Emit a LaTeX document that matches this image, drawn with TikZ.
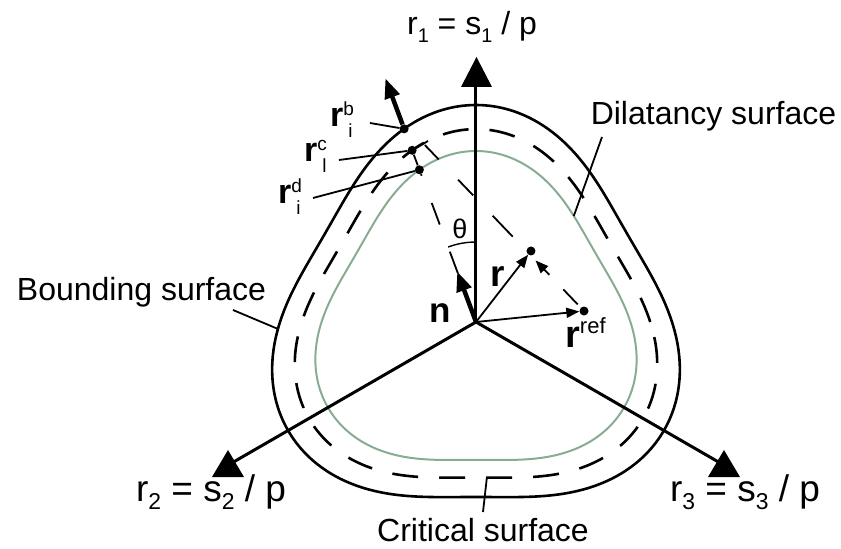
\documentclass[tikz,border=0pt]{standalone}
\usepackage{fontspec}
\setmainfont{Liberation Sans}
\usetikzlibrary{arrows.meta,calc}
\definecolor{dilgreen}{RGB}{135,172,145}
\newcommand{\axlab}[2]{r\raisebox{-0.22em}{\fontsize{0.62em}{0.62em}\selectfont #1} = s\raisebox{-0.22em}{\fontsize{0.62em}{0.62em}\selectfont #2} / p}
\newcommand{\imglab}[2]{{\fontsize{34}{34}\selectfont\bfseries r}\makebox[0pt][l]{\raisebox{11pt}{\fontsize{19}{19}\selectfont #1}}\hspace{5pt}\raisebox{-11pt}{\fontsize{19}{19}\selectfont #2}}
\begin{document}
\begin{tikzpicture}[x=1pt,y=1pt,
  surf/.style={line width=2.6pt},
  crit/.style={line width=2.6pt, dash pattern=on 26pt off 21pt},
  dil/.style={line width=2pt, draw=dilgreen},
  axis/.style={line width=3pt},
  tri/.style={fill=black},
  lead/.style={line width=1.8pt},
  vec/.style={line width=1.8pt, -{Triangle[length=13pt,width=10pt]}},
  bvec/.style={line width=4.5pt, -{Triangle[length=20pt,width=15pt]}},
  dot/.style={circle, fill, inner sep=0pt, minimum size=9pt},
  bigtxt/.style={font=\fontsize{32}{36}\selectfont, inner sep=0pt},
  axtxt/.style={font=\fontsize{37}{40}\selectfont, inner sep=0pt},
  lab/.style={inner sep=0pt, anchor=base west}]
\useasboundingbox (-476,-227) rectangle (365,322);
% surfaces
\draw[surf] plot[domain=0:360, samples=181, smooth] (\x:{196+21*cos(3*(\x-90))}) -- cycle;
\draw[crit] plot[domain=0:360, samples=181, smooth] (\x:{0.889*(196+21*cos(3*(\x-90)))}) -- cycle;
\draw[dil] plot[domain=0:360, samples=181, smooth] (\x:{0.788*(196+21*cos(3*(\x-90)))}) -- cycle;
% axes
\coordinate (O) at (0,0);
\coordinate (a1) at (0,240);
\coordinate (a2) at (210:280);
\coordinate (a3) at (330:280);
\draw[axis] (O) -- (a1);
\draw[axis] (O) -- (a2);
\draw[axis] (O) -- (a3);
\fill[tri] (0.5,265) -- ++(-15.5,-30) -- ++(31,0) -- cycle;
\fill[tri] (-248,-128) -- ++(-16,-27) -- ++(32,0) -- cycle;
\fill[tri] (248,-128) -- ++(-16,-27) -- ++(32,0) -- cycle;
\node[bigtxt, anchor=base] (l1) at (-4,287) {\axlab{1}{1}};
\node[axtxt, anchor=base] (l2) at (-265,-179) {\axlab{2}{2}};
\node[axtxt, anchor=base] (l3) at (269,-179) {\axlab{3}{3}};
% surface labels
\node[bigtxt, anchor=base] (bs) at (-334.5,22) {Bounding surface};
\node[bigtxt, anchor=base] (ds) at (237.5,197) {Dilatancy surface};
\node[bigtxt, anchor=base] (cs) at (7,-219) {Critical surface};
\coordinate (bsl) at (-243,12);
\coordinate (bse) at (182:198.2);
\draw[lead] (bsl) -- (bse);
\coordinate (dsl) at (126,185);
\coordinate (dse) at (47.3:144.2);
\draw[lead] (dsl) -- (dse);
\coordinate (csl) at (7,-190);
\coordinate (cse) at (274:156);
\draw[lead] (csl) -- (cse);
% image points
\node[dot] (rb) at (110.4:206.1) {};
\node[dot] (rc) at (110.4:183.2) {};
\node[dot] (rd) at (110.4:162.4) {};
\coordinate (ntip) at (110.4:54);
\coordinate (rbtip) at (110.4:260);
\draw[line width=1.8pt, dash pattern=on 23pt off 29pt] (O) -- (rd);
\draw[lead] (rd) -- (rc);
\coordinate (rct) at (-48,181);
\draw[lead] (rc) -- (rct);
\draw[bvec] (O) -- (ntip);
\draw[bvec] (rb) -- (rbtip);
% theta
\draw[line width=1.4pt] (90:80) arc[start angle=90, end angle=110.4, radius=80];
\node[font=\fontsize{27}{27}\selectfont, inner sep=0pt] (th) at (-16,93) {θ};
% r and rref
\node[dot] (r) at (55,71) {};
\node[dot] (rref) at (108,11) {};
\draw[vec] (O) -- (r);
\draw[vec] (O) -- (rref);
\coordinate (rend) at (-52.6,178.5);
\foreach \a/\b in {0.039/0.129, 0.444/0.569, 0.69/0.784, 0.905/0.991}
  \draw[lead] ($(rref)!\a!(rend)$) -- ($(rref)!\b!(rend)$);
\draw[vec] ($(rref)!0.216!(rend)$) -- ($(rref)!0.302!(rend)$);
% labels
\node[lab] (nlab) at (-47,-1) {\fontsize{35}{35}\selectfont\bfseries n};
\node[lab] (rlab) at (14,35) {\fontsize{37}{37}\selectfont\bfseries r};
\node[lab] (rreflab) at (89,-25) {{\fontsize{38}{38}\selectfont\bfseries r}\raisebox{14pt}{\fontsize{22}{22}\selectfont ref}};
\node[lab] (rblab) at (-146,195) {\imglab{b}{i}};
\node[lab] (rclab) at (-172,160) {\imglab{c}{l}};
\node[lab] (rdlab) at (-198,118) {\imglab{d}{i}};
\coordinate (rbl) at (-106,199);
\coordinate (rcl) at (-137,162);
\coordinate (rdl) at (-163,124);
\draw[lead] (rbl) -- (rb);
\draw[lead] (rcl) -- (rc);
\draw[lead] (rdl) -- (rd);
\end{tikzpicture}
\end{document}
